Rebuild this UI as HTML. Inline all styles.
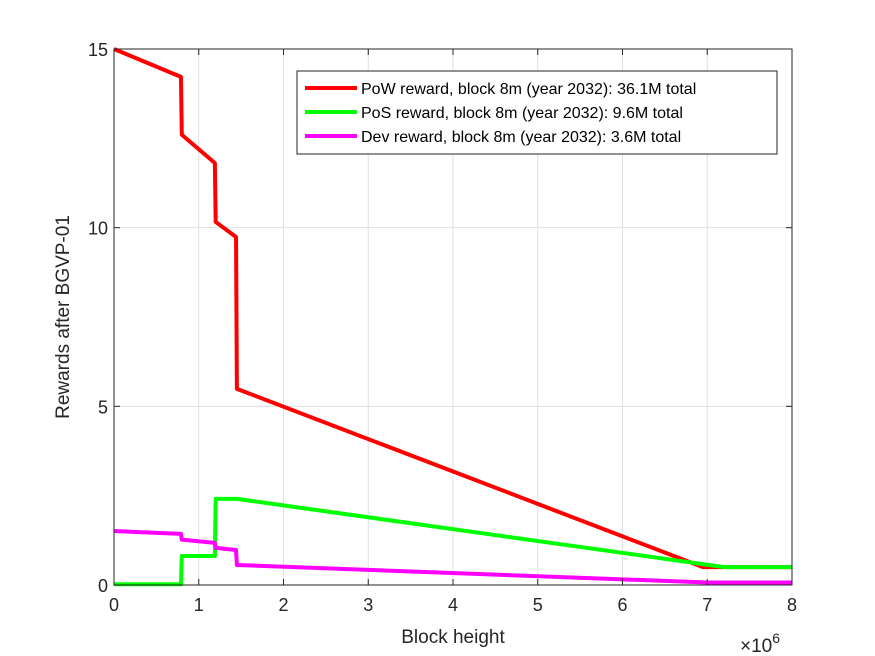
<!DOCTYPE html>
<html><head><meta charset="utf-8"><style>
body{margin:0;background:#fff}
svg{display:block;font-family:"Liberation Sans",sans-serif}
</style></head><body>
<svg id="chart" width="875" height="656">
<rect width="875" height="656" fill="#fff"/>
<g id="grid"></g><g id="series"></g><g id="axes"></g>
</svg>
<script>
const xTicks=[0,1,2,3,4,5,6,7,8];
const yTicks=[0,5,10,15];
const powX=[0,0.79,0.80,1.19,1.20,1.44,1.45,6.95,8];
const powY=[15,14.22,12.6,11.81,10.16,9.74,5.49,0.5,0.5];
const posX=[0,0.79,0.80,1.19,1.20,1.45,7.2,8];
const posY=[0.02,0.02,0.81,0.81,2.41,2.41,0.5,0.5];
const devX=[0,0.79,0.80,1.19,1.20,1.44,1.45,7.0,8];
const devY=[1.51,1.43,1.27,1.18,1.04,0.98,0.56,0.07,0.07];
const legendLabels=["PoW reward, block 8m (year 2032): 36.1M total","PoS reward, block 8m (year 2032): 9.6M total","Dev reward, block 8m (year 2032): 3.6M total"];
const colors=["#ff0000","#00ff00","#ff00ff"];
const L=114,R=792,T=49,B=585;
const sx=v=>L+(R-L)*v/8, sy=v=>B-(B-T)*v/15;
const NS="http://www.w3.org/2000/svg";
function mk(tag,attrs,parent){const e=document.createElementNS(NS,tag);for(const k in attrs)e.setAttribute(k,attrs[k]);parent.appendChild(e);return e;}
const grid=document.getElementById('grid'),axes=document.getElementById('axes'),ser=document.getElementById('series');
xTicks.forEach(t=>{
 const g=mk('line',{x1:sx(t),x2:sx(t),y1:T,y2:B,stroke:'#dfdfdf','stroke-width':1},grid);
 
 
 mk('line',{x1:sx(t),x2:sx(t),y1:B,y2:B-6,stroke:'#262626'},axes);
 mk('line',{x1:sx(t),x2:sx(t),y1:T,y2:T+6,stroke:'#262626'},axes);
 const tx=mk('text',{x:sx(t),y:B+26,'text-anchor':'middle','font-size':18,fill:'#262626'},axes);
 tx.textContent=t;
 
 
});
yTicks.forEach(t=>{
 const g=mk('line',{x1:L,x2:R,y1:sy(t),y2:sy(t),stroke:'#dfdfdf','stroke-width':1},grid);
 
 
 mk('line',{x1:L,x2:L+6,y1:sy(t),y2:sy(t),stroke:'#262626'},axes);
 mk('line',{x1:R,x2:R-6,y1:sy(t),y2:sy(t),stroke:'#262626'},axes);
 const tx=mk('text',{x:L-6,y:sy(t)+7,'text-anchor':'end','font-size':18,fill:'#262626'},axes);
 tx.textContent=t;
 
 
});
const box=mk('rect',{x:L,y:T,width:R-L,height:B-T,fill:'none',stroke:'#262626','stroke-width':1},axes);


const xl=mk('text',{x:453,y:643,'text-anchor':'middle','font-size':19,fill:'#262626'},axes);
xl.textContent='Block height';


const yl=mk('text',{x:0,y:0,'text-anchor':'middle','font-size':19,fill:'#262626',transform:'translate(69,317) rotate(-90)'},axes);
yl.textContent='Rewards after BGVP-01';


const ex=mk('text',{x:740,y:652,'font-size':19,fill:'#262626'},axes);
ex.innerHTML='×10<tspan dy="-9" font-size="14">6</tspan>';


const data=[[powX,powY,'pow-line'],[posX,posY,'pos-line'],[devX,devY,'dev-line']];
data.forEach((d,i)=>{
 const p=mk('polyline',{points:d[0].map((x,j)=>sx(x)+','+sy(d[1][j])).join(' '),fill:'none',stroke:colors[i],'stroke-width':4,'stroke-linejoin':'round'},ser);
 
 
});
const lg=mk('g',{},axes);


mk('rect',{x:297,y:71,width:480,height:83,fill:'#fff',stroke:'#262626'},lg);
legendLabels.forEach((s,i)=>{
 const y=88+24*i;
 mk('line',{x1:305,x2:357,y1:y,y2:y,stroke:colors[i],'stroke-width':4},lg);
 const t=mk('text',{x:361,y:y+6,'font-size':16,fill:'#000'},lg);
 t.textContent=s;
 
 
});
</script>
</body></html>
